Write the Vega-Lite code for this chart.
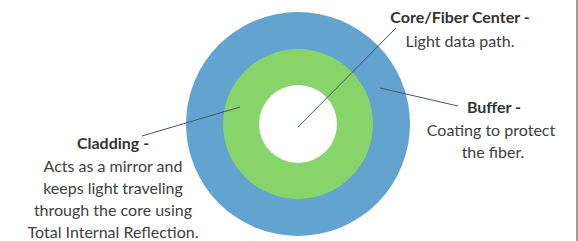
{
  "$schema": "https://vega.github.io/schema/vega-lite/v6.json",
  "width": 578,
  "height": 241,
  "autosize": {"type": "none"},
  "padding": 0,
  "background": "white",
  "config": {"view": {"stroke": null}},
  "datasets": {
    "rings": [
      {"layer": "Buffer", "cx": 298, "cy": 124, "r": 112},
      {"layer": "Cladding", "cx": 298, "cy": 124, "r": 75},
      {"layer": "Core", "cx": 298, "cy": 124, "r": 39}
    ],
    "leaders": [
      {"label": "Core", "x1": 298, "y1": 127, "x2": 396, "y2": 28},
      {"label": "Buffer", "x1": 380, "y1": 88, "x2": 458, "y2": 106},
      {"label": "Cladding", "x1": 240, "y1": 107, "x2": 142, "y2": 136}
    ],
    "labels": [
      {"text": "Core/Fiber Center -", "x": 460, "y": 18, "bold": true},
      {"text": "Light data path.", "x": 460, "y": 42, "bold": false},
      {"text": "Buffer -", "x": 494, "y": 108, "bold": true},
      {"text": "Coating to protect", "x": 491, "y": 131, "bold": false},
      {"text": "the fiber.", "x": 493, "y": 153, "bold": false},
      {"text": "Cladding -", "x": 113, "y": 144, "bold": true},
      {"text": "Acts as a mirror and", "x": 113, "y": 167, "bold": false},
      {"text": "keeps light traveling", "x": 113, "y": 189, "bold": false},
      {"text": "through the core using", "x": 113, "y": 211, "bold": false},
      {"text": "Total Internal Reflection.", "x": 113, "y": 233, "bold": false}
    ],
    "frame": [{"x": 577}]
  },
  "layer": [
    {
      "data": {"name": "rings"},
      "mark": {"type": "point", "filled": true, "opacity": 1, "strokeWidth": 0},
      "encoding": {
        "x": {"field": "cx", "type": "quantitative", "scale": {"domain": [0, 578], "nice": false, "zero": false}, "axis": null},
        "y": {"field": "cy", "type": "quantitative", "scale": {"domain": [0, 241], "nice": false, "zero": false, "reverse": true}, "axis": null},
        "size": {"field": "r", "type": "quantitative", "scale": {"type": "pow", "exponent": 2, "domain": [0, 112], "range": [0, 50176]}, "legend": null},
        "color": {"field": "layer", "type": "nominal", "scale": {"domain": ["Buffer", "Cladding", "Core"], "range": ["#63a3d0", "#86d46a", "#ffffff"]}, "legend": null},
        "order": {"field": "r", "sort": "descending"}
      }
    },
    {
      "data": {"name": "leaders"},
      "mark": {"type": "rule", "color": "#3e5670", "strokeWidth": 1},
      "encoding": {
        "x": {"field": "x1", "type": "quantitative"},
        "y": {"field": "y1", "type": "quantitative"},
        "x2": {"field": "x2"},
        "y2": {"field": "y2"}
      }
    },
    {
      "data": {"name": "labels"},
      "transform": [{"filter": "!datum.bold"}],
      "mark": {"type": "text", "font": "Lato", "fontSize": 16, "color": "#404040", "align": "center", "baseline": "middle"},
      "encoding": {
        "x": {"field": "x", "type": "quantitative"},
        "y": {"field": "y", "type": "quantitative"},
        "text": {"field": "text"}
      }
    },
    {
      "data": {"name": "labels"},
      "transform": [{"filter": "datum.bold"}],
      "mark": {"type": "text", "font": "Lato", "fontSize": 16, "fontWeight": "bold", "color": "#333333", "align": "center", "baseline": "middle"},
      "encoding": {
        "x": {"field": "x", "type": "quantitative"},
        "y": {"field": "y", "type": "quantitative"},
        "text": {"field": "text"}
      }
    },
    {
      "data": {"name": "frame"},
      "mark": {"type": "rule", "color": "#7a7a7a", "strokeWidth": 1.5},
      "encoding": {
        "x": {"field": "x", "type": "quantitative"}
      }
    }
  ]
}
